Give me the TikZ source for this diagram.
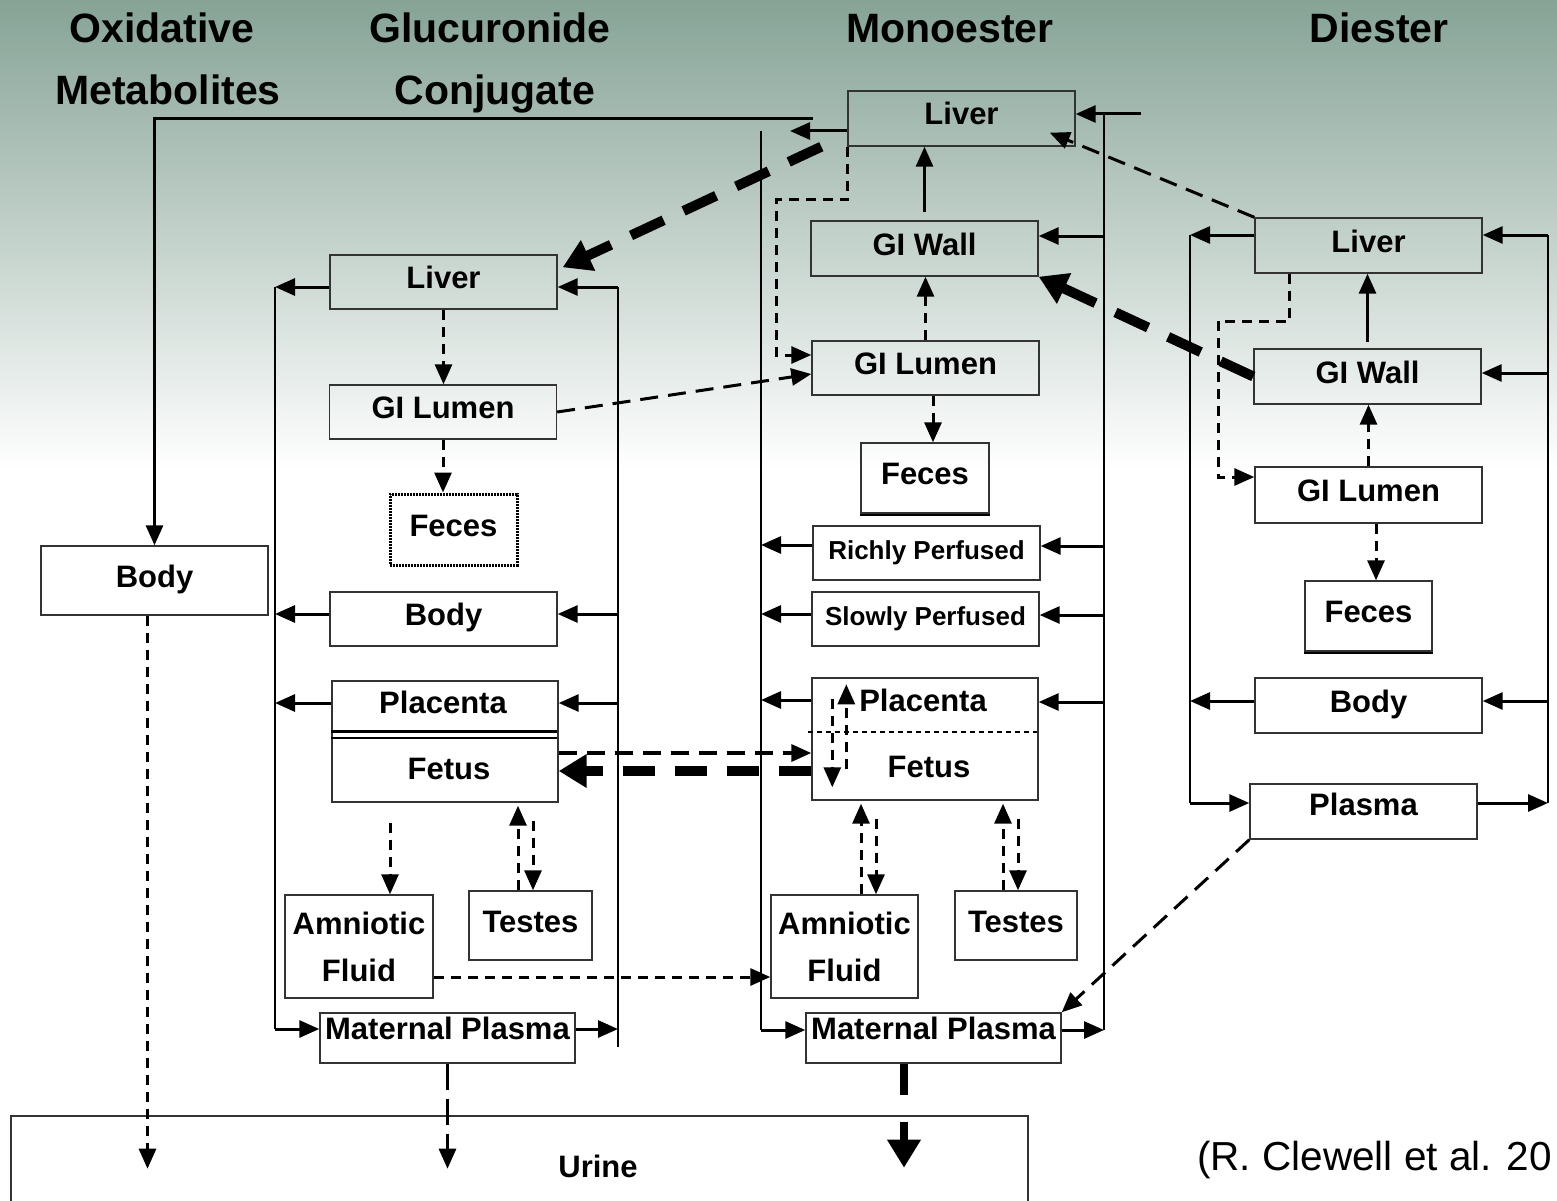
\documentclass[tikz,border=0pt]{standalone}
\usepackage{fontspec}
\setmainfont{Liberation Sans}
\usetikzlibrary{arrows.meta,calc}
\definecolor{slidegreen}{RGB}{134,163,150}
\newcommand{\cmptfont}{\fontsize{31}{47}\selectfont\bfseries}
\newcommand{\smallcmptfont}{\fontsize{26}{31}\selectfont\bfseries}
\newcommand{\hdfont}{\fontsize{41}{62}\selectfont\bfseries}
\tikzset{
    >={Triangle[length=20pt,width=17pt]},
    compartment/.style={
        rectangle,
        draw=black!80, line width=1.4pt,
        minimum width=227pt,
        minimum height=55pt,
        inner sep=0pt,
        text height=23pt, text depth=10pt,
        font=\cmptfont
    },
    tallbox/.style={
        rectangle,
        draw=black!80, line width=1.4pt,
        inner sep=0pt,
        align=center,
        font=\cmptfont
    },
    heading/.style={anchor=base, font=\hdfont},
    boxtext/.style={anchor=base, font=\cmptfont},
    rail/.style={draw, line width=1.4pt},
    flow/.style={draw, line width=3pt, ->},
    dflow/.style={flow, dash pattern=on 18pt off 10pt},
    sflow/.style={flow, dash pattern=on 10pt off 7pt},
    bigflow/.style={draw, line width=10pt, dash pattern=on 36pt off 22pt,
        -{Triangle[length=28pt,width=32pt]}}
}
\begin{document}
\begin{tikzpicture}[x=1pt, y=-1pt]
    \useasboundingbox (0,0) rectangle (1557,1201);
    \fill[white] (0,0) rectangle (1557,1201);
    \fill[top color=slidegreen, bottom color=white] (0,0) rectangle (1557,470);

    % column headings
    \node[heading] (oxiTop) at (162,43) {Oxidative};
    \node[heading] (oxiBot) at (168,105) {Metabolites};
    \node[heading] (glcTop) at (490,43) {Glucuronide};
    \node[heading] (glcBot) at (495,105) {Conjugate};
    \node[heading] (monoHd) at (950,43) {Monoester};
    \node[heading] (diHd) at (1379,43) {Diester};

    % oxidative metabolites
    \node[compartment, minimum height=69pt] (bodyO) at (154.5,580.5) {Body};

    % glucuronide conjugate
    \node[compartment, minimum height=54pt] (liverG) at (443.5,282) {Liver};
    \node[compartment, minimum height=54pt] (lumenG) at (443,412) {GI Lumen};
    \node[compartment, minimum width=127pt, minimum height=71pt,
          draw=black, dash pattern=on 2pt off 1pt, line width=3pt] (fecesG) at (453.5,529.5) {Feces};
    \node[compartment, minimum height=54pt] (bodyG) at (443.5,619) {Body};
    \node[compartment, minimum width=226pt, minimum height=121pt] (plfG) at (445,741.5) {};
    \node[boxtext] (placG) at (443,713) {Placenta};
    \node[boxtext] (fetusG) at (449,779) {Fetus};
    \node[tallbox, minimum width=148pt, minimum height=103pt] (amnG) at (359,946.5) {Amniotic\\Fluid};
    \node[compartment, minimum width=123pt, minimum height=69pt] (testG) at (530.5,925.5) {Testes};
    \node[compartment, minimum width=255pt, minimum height=50pt, text depth=20pt] (plasG) at (447.5,1038) {Maternal Plasma};

    % monoester
    \node[compartment] (liverM) at (961.5,118.5) {Liver};
    \node[compartment] (wallM) at (924.5,248.5) {GI Wall};
    \node[compartment, minimum height=54pt] (lumenM) at (925.5,368) {GI Lumen};
    \node[compartment, minimum width=128pt, minimum height=70pt] (fecesM) at (925,478) {Feces};
    \node[compartment, minimum height=54pt, font=\smallcmptfont] (richM) at (926.5,553) {Richly Perfused};
    \node[compartment, minimum height=54pt, font=\smallcmptfont] (slowM) at (925.5,619) {Slowly Perfused};
    \node[compartment, minimum width=226pt, minimum height=122pt] (plfM) at (925,739) {};
    \node[boxtext] (placM) at (923,711) {Placenta};
    \node[boxtext] (fetusM) at (929,777) {Fetus};
    \node[tallbox, minimum width=147pt, minimum height=103pt] (amnM) at (844.5,946.5) {Amniotic\\Fluid};
    \node[compartment, minimum width=122pt, minimum height=69pt] (testM) at (1016,925.5) {Testes};
    \node[compartment, minimum width=255pt, minimum height=50pt, text depth=20pt] (plasM) at (933.5,1038) {Maternal Plasma};

    % diester
    \node[compartment] (liverD) at (1368.5,245.5) {Liver};
    \node[compartment] (wallD) at (1367.5,376.5) {GI Wall};
    \node[compartment, minimum height=56pt] (lumenD) at (1368.5,495) {GI Lumen};
    \node[compartment, minimum width=127pt, minimum height=70pt] (fecesD) at (1368.5,616) {Feces};
    \node[compartment] (bodyD) at (1368.5,705.5) {Body};
    \node[compartment, text depth=16pt] (plasD) at (1363.5,811.5) {Plasma};

    % urine and source
    \node[draw=black!80, line width=1.4pt, minimum width=1017pt, minimum height=100pt, inner sep=0pt] (urine) at (519.5,1166) {};
    \node[boxtext] (urineLbl) at (598,1177) {Urine};
    \node[anchor=base west, inner sep=0pt, font=\fontsize{40.5}{48}\selectfont] (cite) at (1197,1170) {(R. Clewell et al. 20};

    % feces borders and placenta dividers
    \draw[line width=2pt] ([yshift=-1.5pt]fecesM.south west) -- ([yshift=-1.5pt]fecesM.south east);
    \draw[line width=2pt] ([yshift=-1.5pt]fecesD.south west) -- ([yshift=-1.5pt]fecesD.south east);
    \draw[line width=3.5pt] (plfG.north west) ++(0,51) -- ++(226,0);
    \draw[line width=2pt] (plfG.north west) ++(0,58) -- ++(226,0);
    \draw[line width=2pt, dash pattern=on 5pt off 4pt] (plfM.north west) ++(-3,55) -- ++(229,0);

    % rails
    \coordinate (gRL) at (275,287);   \coordinate (gRLb) at (275,1029);
    \coordinate (gRR) at (618,287);   \coordinate (gRRb) at (618,1047);
    \coordinate (mRL) at (761,131);   \coordinate (mRLb) at (761,1030);
    \coordinate (mRR) at (1104,114);  \coordinate (mRRb) at (1104,1030);
    \coordinate (dRL) at (1190,235);  \coordinate (dRLb) at (1190,803);
    \coordinate (dRR) at (1548,235);  \coordinate (dRRb) at (1548,803);
    \coordinate (mIn) at (1141,114);
    \coordinate (mOut) at (813,119);
    \coordinate (mLeft) at (790,131);
    \coordinate (mBend) at (776,200);
    \coordinate (dBend) at (1218,321);
    \draw[rail] (gRL) -- (gRLb);
    \draw[rail] (gRR) -- (gRRb);
    \draw[rail] (mRL) -- (mRLb);
    \draw[rail] (mRR) -- (mRRb);
    \draw[rail] (dRL) -- (dRLb);
    \draw[rail] (dRR) -- (dRRb);

    % glucuronide flows
    \draw[flow] (liverG.west |- gRL) -- (gRL);
    \draw[flow] (gRR) -- (liverG.east |- gRR);
    \draw[flow] (bodyG.west |- 0,614) -- (gRL |- 0,614);
    \draw[flow] (gRR |- 0,614) -- (bodyG.east |- 0,614);
    \draw[flow] (plfG.west |- 0,703) -- (gRL |- 0,703);
    \draw[flow] (gRR |- 0,703) -- (plfG.east |- 0,703);
    \draw[flow] (gRLb) -- (plasG.west |- gRLb);
    \draw[flow] (plasG.east |- gRLb) -- (gRR |- gRLb);
    \draw[sflow] (liverG.south) -- (liverG.south |- lumenG.north);
    \draw[sflow] (lumenG.south) -- (lumenG.south |- fecesG.north);
    \draw[dflow] (lumenG.east) -- (lumenM.west |- 0,374);
    \draw[sflow, shorten <=20pt] (plfG.south -| 390,0) -- (amnG.north -| 390,0);
    \draw[sflow, shorten >=3pt] (testG.north -| 518,0) -- (plfG.south -| 518,0);
    \draw[sflow, shorten <=18pt] (plfG.south -| 533,0) -- (testG.north -| 533,0);
    \draw[sflow] (amnG.east |- 0,977) -- (amnM.west |- 0,977);
    \draw[dflow, line width=3.5pt] (plfG.east |- 0,753) -- (plfM.west |- 0,753);
    \draw[bigflow, dash pattern=on 32pt off 20pt] (plfM.west |- 0,771) -- (plfG.east |- 0,771);

    % monoester flows
    \draw[flow] (mOut) -| (bodyO.north);
    \draw[flow] (liverM.west |- mLeft) -- (mLeft);
    \draw[flow] (mIn) -- (liverM.east |- mIn);
    \draw[flow, shorten <=8pt] (wallM.north) -- (wallM.north |- liverM.south);
    \draw[sflow] (lumenM.north) -- (lumenM.north |- wallM.south);
    \draw[sflow] ([xshift=7.5pt]lumenM.south) -- ([xshift=7.5pt]lumenM.south |- fecesM.north);
    \draw[sflow] (liverM.south west) |- (mBend) |- (lumenM.west |- 0,355);
    \draw[flow] (mRR |- 0,236) -- (wallM.east |- 0,236);
    \draw[flow] (richM.west |- 0,545) -- (mRL |- 0,545);
    \draw[flow] (mRR |- 0,546) -- (richM.east |- 0,546);
    \draw[flow] (slowM.west |- 0,614) -- (mRL |- 0,614);
    \draw[flow] (mRR |- 0,615) -- (slowM.east |- 0,615);
    \draw[flow] (plfM.west |- 0,700) -- (mRL |- 0,700);
    \draw[flow] (mRR |- 0,702) -- (plfM.east |- 0,702);
    \draw[flow] (mRLb) -- (plasM.west |- mRLb);
    \draw[flow] (plasM.east |- mRLb) -- (mRRb);
    \draw[sflow] (plfM.north west) ++(21,22) -- ++(0,88);
    \draw[sflow] (plfM.north west) ++(35,92) -- ++(0,-85);
    \draw[sflow, shorten >=3pt] (amnM.north -| 861,0) -- (plfM.south -| 861,0);
    \draw[sflow, shorten <=18pt] (plfM.south -| 876,0) -- (amnM.north -| 876,0);
    \draw[sflow, shorten >=3pt] (testM.north -| 1003,0) -- (plfM.south -| 1003,0);
    \draw[sflow, shorten <=18pt] (plfM.south -| 1018,0) -- (testM.north -| 1018,0);
    \draw[bigflow] ($(liverM.south west)+(-26,0)$) -- ($(liverG.north east)+(5,13)$);

    % diester flows
    \draw[flow] (liverD.west |- dRL) -- (dRL);
    \draw[flow] (dRR) -- (liverD.east |- dRR);
    \draw[flow] (dRR |- 0,373) -- (wallD.east |- 0,373);
    \draw[flow] (bodyD.west |- 0,701) -- (dRL |- 0,701);
    \draw[flow] (dRR |- 0,701) -- (bodyD.east |- 0,701);
    \draw[flow] (dRLb) -- (plasD.west |- dRLb);
    \draw[flow] (plasD.east |- dRLb) -- (dRRb);
    \draw[flow, shorten <=6pt] (wallD.north) -- (wallD.north |- liverD.south);
    \draw[sflow] (lumenD.north) -- (lumenD.north |- wallD.south);
    \draw[sflow] ([xshift=7.5pt]lumenD.south) -- ([xshift=7.5pt]lumenD.south |- fecesD.north);
    \draw[sflow] (liverD.south west) ++(35,0) |- (dBend) |- (lumenD.west |- 0,477);
    \draw[dflow] (liverD.north west) -- ($(liverM.south east)+(-26,-14)$);
    \draw[bigflow] (wallD.west) -- (wallM.south east);
    \draw[dflow] (plasD.south west) -- (plasM.north east);

    % to urine
    \draw[sflow] ([xshift=-7pt]bodyO.south) -- ++(0,553);
    \draw[flow, dash pattern=on 26pt off 9pt] (plasG.south) -- ++(0,105);
    \draw[bigflow, line width=8pt, dash pattern=on 31pt off 27pt] ([xshift=-29.5pt]plasM.south) -- ++(0,104);
\end{tikzpicture}
\end{document}
